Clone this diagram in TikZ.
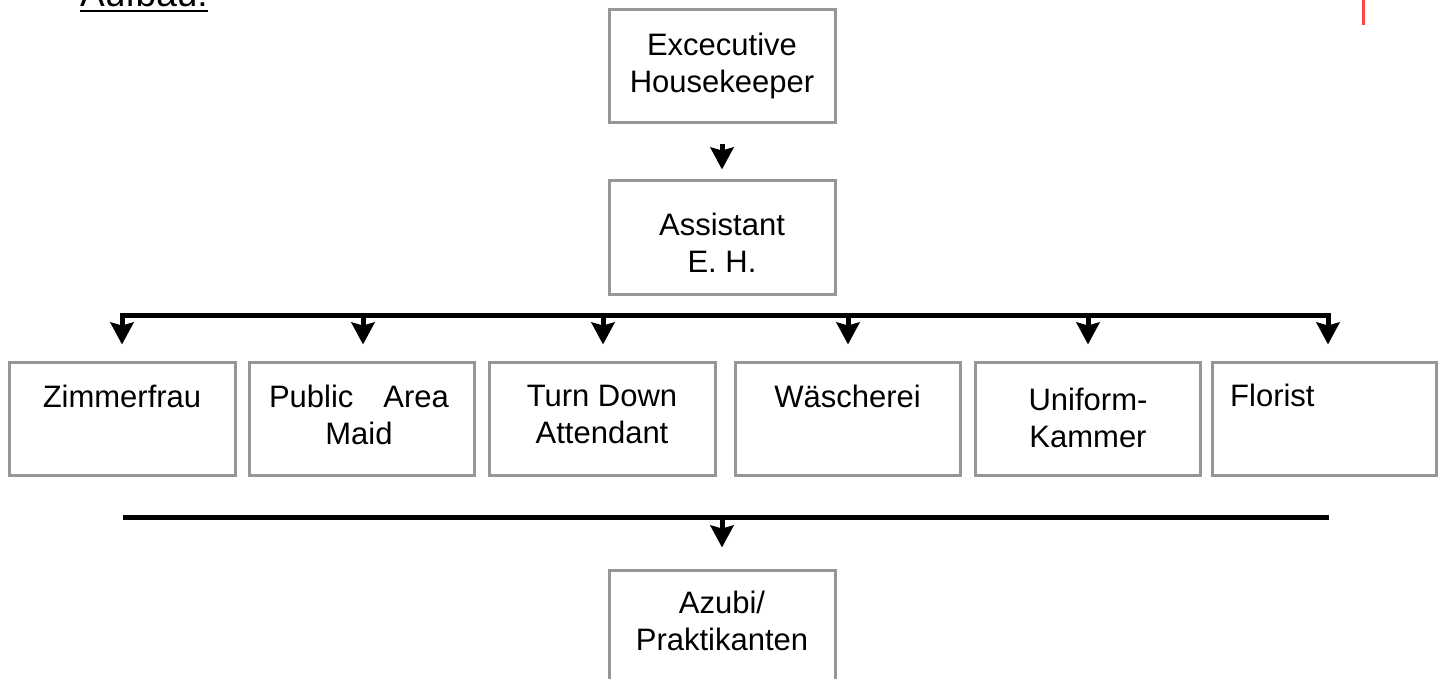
\documentclass[tikz,border=0pt]{standalone}
\usepackage{fontspec}
\setmainfont{Liberation Sans}
\usetikzlibrary{arrows.meta,calc}
\definecolor{boxgray}{RGB}{150,150,150}
\definecolor{markred}{RGB}{255,70,70}
\tikzset{
  box/.style={draw=boxgray, line width=3pt, minimum width=226pt, minimum height=113pt, inner sep=0pt},
  txt/.style={anchor=north, align=center, inner sep=0pt, font=\fontsize{31}{37}\selectfont},
  arr/.style={line width=5pt, -{Stealth[width=23pt,length=22pt,inset=3pt]}},
  bus/.style={line width=5pt, line cap=rect},
}
\begin{document}
\begin{tikzpicture}[x=1pt,y=-1pt]
\useasboundingbox (0,0) rectangle (1443,679);
\clip (0,0) rectangle (1443,679);
% heading
\node[anchor=base west, inner sep=0pt, font=\fontsize{37}{44}\selectfont] (head) at (80,7) {Aufbau:};
\draw[line width=2.5pt] ($(head.base west)+(0,4)$) -- ($(head.base east)+(0,4)$);
\fill[markred] (1361.5,0) rectangle (1365,25);
% boxes
\node[box] (ex) at (722,66.5) {};
\node[box] (as) at (722,237.5) {};
\node[box] (zim) at (122,418.5) {};
\node[box, minimum width=225pt] (pub) at (361.5,418.5) {};
\node[box] (turn) at (602,418.5) {};
\node[box, minimum width=225pt] (wash) at (847.5,418.5) {};
\node[box, minimum width=225pt] (uni) at (1087.5,418.5) {};
\node[box, minimum width=224pt] (flo) at (1324,418.5) {};
\node[box, minimum height=120pt] (azu) at (722,630) {};
% texts
\node[txt] (tex) at (722,33) {Excecutive\\Housekeeper};
\node[txt] (tas) at (722,213) {Assistant\\E. H.};
\node[txt] (tzim) at (122,385) {Zimmerfrau};
\node[txt] (tpub) at (359,385) {Public\hspace{30pt}Area\\Maid};
\node[txt] (tturn) at (602,385) {Turn Down\\Attendant};
\node[txt] (twash) at (847.5,385) {Wäscherei};
\node[txt] (tuni) at (1088,388) {Uniform-\\Kammer};
\node[txt, anchor=north west] (tflo) at (1230,384) {Florist};
\node[txt] (tazu) at (722,591) {Azubi/\\Praktikanten};
% connectors
\draw[arr, shorten <=20pt, shorten >=10pt] (ex) -- (as);
\coordinate (b1) at (122,315);
\coordinate (b2) at (363,315);
\coordinate (b3) at (603,315);
\coordinate (b4) at (848,315);
\coordinate (b5) at (1088,315);
\coordinate (b6) at (1328,315);
\draw[bus] (b1) -- (b6);
\draw[arr, shorten >=16pt] (b1) -- (b1 |- zim.north);
\draw[arr, shorten >=16pt] (b2) -- (b2 |- pub.north);
\draw[arr, shorten >=16pt] (b3) -- (b3 |- turn.north);
\draw[arr, shorten >=16pt] (b4) -- (b4 |- wash.north);
\draw[arr, shorten >=16pt] (b5) -- (b5 |- uni.north);
\draw[arr, shorten >=16pt] (b6) -- (b6 |- flo.north);
\coordinate (c1) at (123,517);
\coordinate (c2) at (1329,517);
\coordinate (cm) at (722,517);
\draw[line width=5pt] (c1) -- (c2);
\draw[arr, shorten >=21pt] (cm) -- (azu.north);
\end{tikzpicture}
\end{document}
